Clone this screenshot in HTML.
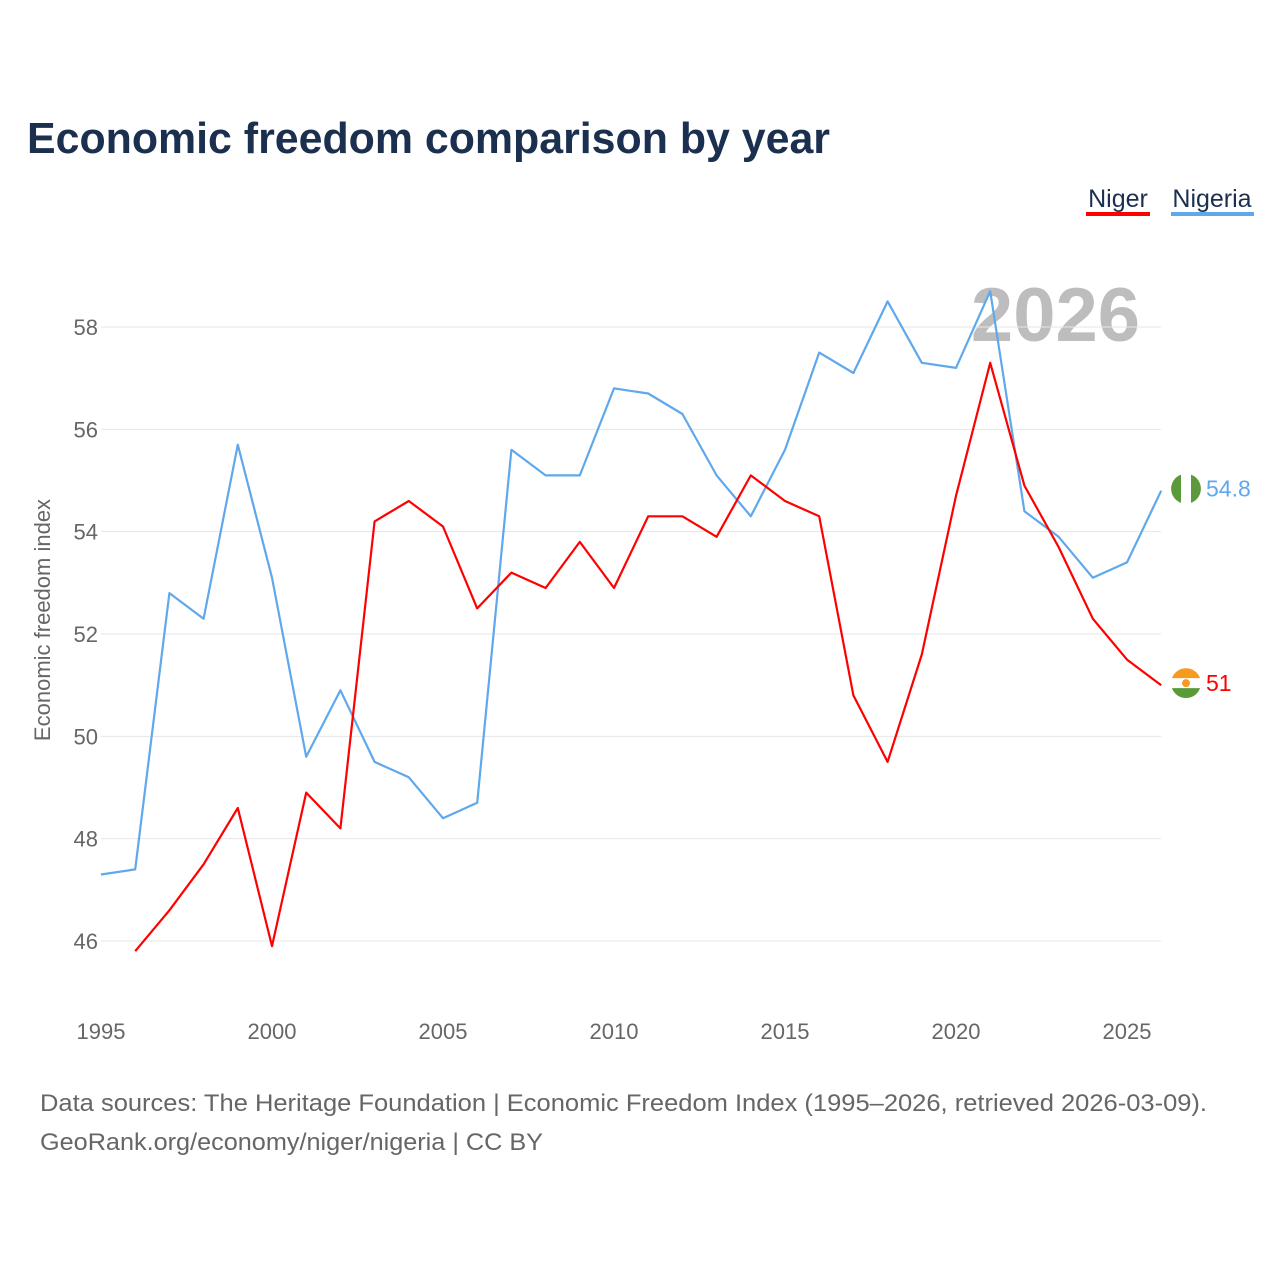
<!DOCTYPE html>
<html><head><meta charset="utf-8">
<style>
html,body{margin:0;padding:0;background:#fff;}
body{width:1280px;height:1280px;position:relative;font-family:"Liberation Sans",sans-serif;}
svg text{font-family:"Liberation Sans",sans-serif;}
</style></head>
<body>
<svg id="chart" width="1280" height="1280" viewBox="0 0 1280 1280" xmlns="http://www.w3.org/2000/svg">
  <text x="27" y="153" font-size="44" font-weight="bold" fill="#1b2f4f" textLength="803" lengthAdjust="spacingAndGlyphs">Economic freedom comparison by year</text>
  <g>
    <text x="1118" y="207" font-size="25" fill="#1b2f4f" text-anchor="middle">Niger</text>
    <rect x="1086" y="212" width="64" height="4" fill="#ff0000"/>
  </g>
  <g>
    <text x="1212" y="207" font-size="25" fill="#1b2f4f" text-anchor="middle">Nigeria</text>
    <rect x="1171" y="212" width="83" height="4" fill="#5fa8ec"/>
  </g>
  <text x="1140" y="341" font-size="76" font-weight="bold" fill="#bdbdbd" text-anchor="end">2026</text>
  <text transform="translate(50,620) rotate(-90)" font-size="22" fill="#666" text-anchor="middle">Economic freedom index</text>
  <g id="grid"></g>
  <g id="xticks"></g>
  <g id="series"></g>
  <text x="40" y="1111" font-size="24" fill="#666" textLength="1167" lengthAdjust="spacingAndGlyphs">Data sources: The Heritage Foundation | Economic Freedom Index (1995–2026, retrieved 2026-03-09).</text>
  <text x="40" y="1150" font-size="24" fill="#666" textLength="503" lengthAdjust="spacingAndGlyphs">GeoRank.org/economy/niger/nigeria | CC BY</text>
</svg>
<script>
const years = [1995,1996,1997,1998,1999,2000,2001,2002,2003,2004,2005,2006,2007,2008,2009,2010,2011,2012,2013,2014,2015,2016,2017,2018,2019,2020,2021,2022,2023,2024,2025,2026];
const nigeriaValues = [47.3,47.4,52.8,52.3,55.7,53.1,49.6,50.9,49.5,49.2,48.4,48.7,55.6,55.1,55.1,56.8,56.7,56.3,55.1,54.3,55.6,57.5,57.1,58.5,57.3,57.2,58.7,54.4,53.9,53.1,53.4,54.8];
const nigerValues = [null,45.8,46.6,47.5,48.6,45.9,48.9,48.2,54.2,54.6,54.1,52.5,53.2,52.9,53.8,52.9,54.3,54.3,53.9,55.1,54.6,54.3,50.8,49.5,51.6,54.7,57.3,54.9,53.7,52.3,51.5,51.0];
const yTicks = [46,48,50,52,54,56,58];
const xTicks = [1995,2000,2005,2010,2015,2020,2025];

const NS = "http://www.w3.org/2000/svg";
function xs(y){ return 101 + (y-1995)*34.2; }
function ys(v){ return 941 - (v-46)*(614/12); }
function mk(tag, attrs, parent){ const e=document.createElementNS(NS,tag); for(const k in attrs) e.setAttribute(k,attrs[k]); parent.appendChild(e); return e; }

const grid=document.getElementById('grid');
yTicks.forEach(t=>{
  const l=mk('line',{x1:101,x2:1161,y1:ys(t),y2:ys(t),stroke:'#e6e6e6','stroke-width':1},grid);
  
  
  const tx=mk('text',{x:98,y:ys(t)+8,'font-size':22,fill:'#666','text-anchor':'end'},grid);
  tx.textContent=t;
  
  
});
const xg=document.getElementById('xticks');
xTicks.forEach(t=>{
  const tx=mk('text',{x:xs(t),y:1039,'font-size':22,fill:'#666','text-anchor':'middle'},xg);
  tx.textContent=t;
  
  
});

const sg=document.getElementById('series');
function drawLine(vals,color,name){
  let d='';
  vals.forEach((v,i)=>{ if(v==null) return; d+=(d?'L':'M')+xs(years[i]).toFixed(1)+','+ys(v).toFixed(1); });
  const p=mk('path',{d:d,fill:'none',stroke:color,'stroke-width':2.2,'stroke-linejoin':'round'},sg);
  
  
}
drawLine(nigeriaValues,'#5fa8ec','nigeria');
drawLine(nigerValues,'#ff0000','niger');

function endLabel(vals,color,name,flag){
  const v=vals[vals.length-1], cx=1186, cy=ys(v)-2;
  const g=mk('g',{},sg);
  
  
  if(flag==='ng'){
    mk('circle',{cx:cx,cy:cy,r:15,fill:'#fff'},g);
    mk('path',{d:`M${cx-5},${cy-14.1}A15,15 0 0 0 ${cx-5},${cy+14.1}Z`,fill:'#5a9a3a'},g);
    mk('path',{d:`M${cx+5},${cy-14.1}A15,15 0 0 1 ${cx+5},${cy+14.1}Z`,fill:'#5a9a3a'},g);
  } else {
    mk('circle',{cx:cx,cy:cy,r:15,fill:'#fff'},g);
    mk('path',{d:`M${cx-14.1},${cy-5}A15,15 0 0 1 ${cx+14.1},${cy-5}Z`,fill:'#f79a1e'},g);
    mk('path',{d:`M${cx-14.1},${cy+5}A15,15 0 0 0 ${cx+14.1},${cy+5}Z`,fill:'#5a9a3a'},g);
    mk('circle',{cx:cx,cy:cy,r:4,fill:'#f79a1e'},g);
  }
  const t=mk('text',{x:1206,y:cy+8,'font-size':23,fill:color},g);
  t.textContent=String(v);
}
endLabel(nigeriaValues,'#5fa8ec','nigeria','ng');
endLabel(nigerValues,'#ff0000','niger','ne');
</script>
</body></html>
